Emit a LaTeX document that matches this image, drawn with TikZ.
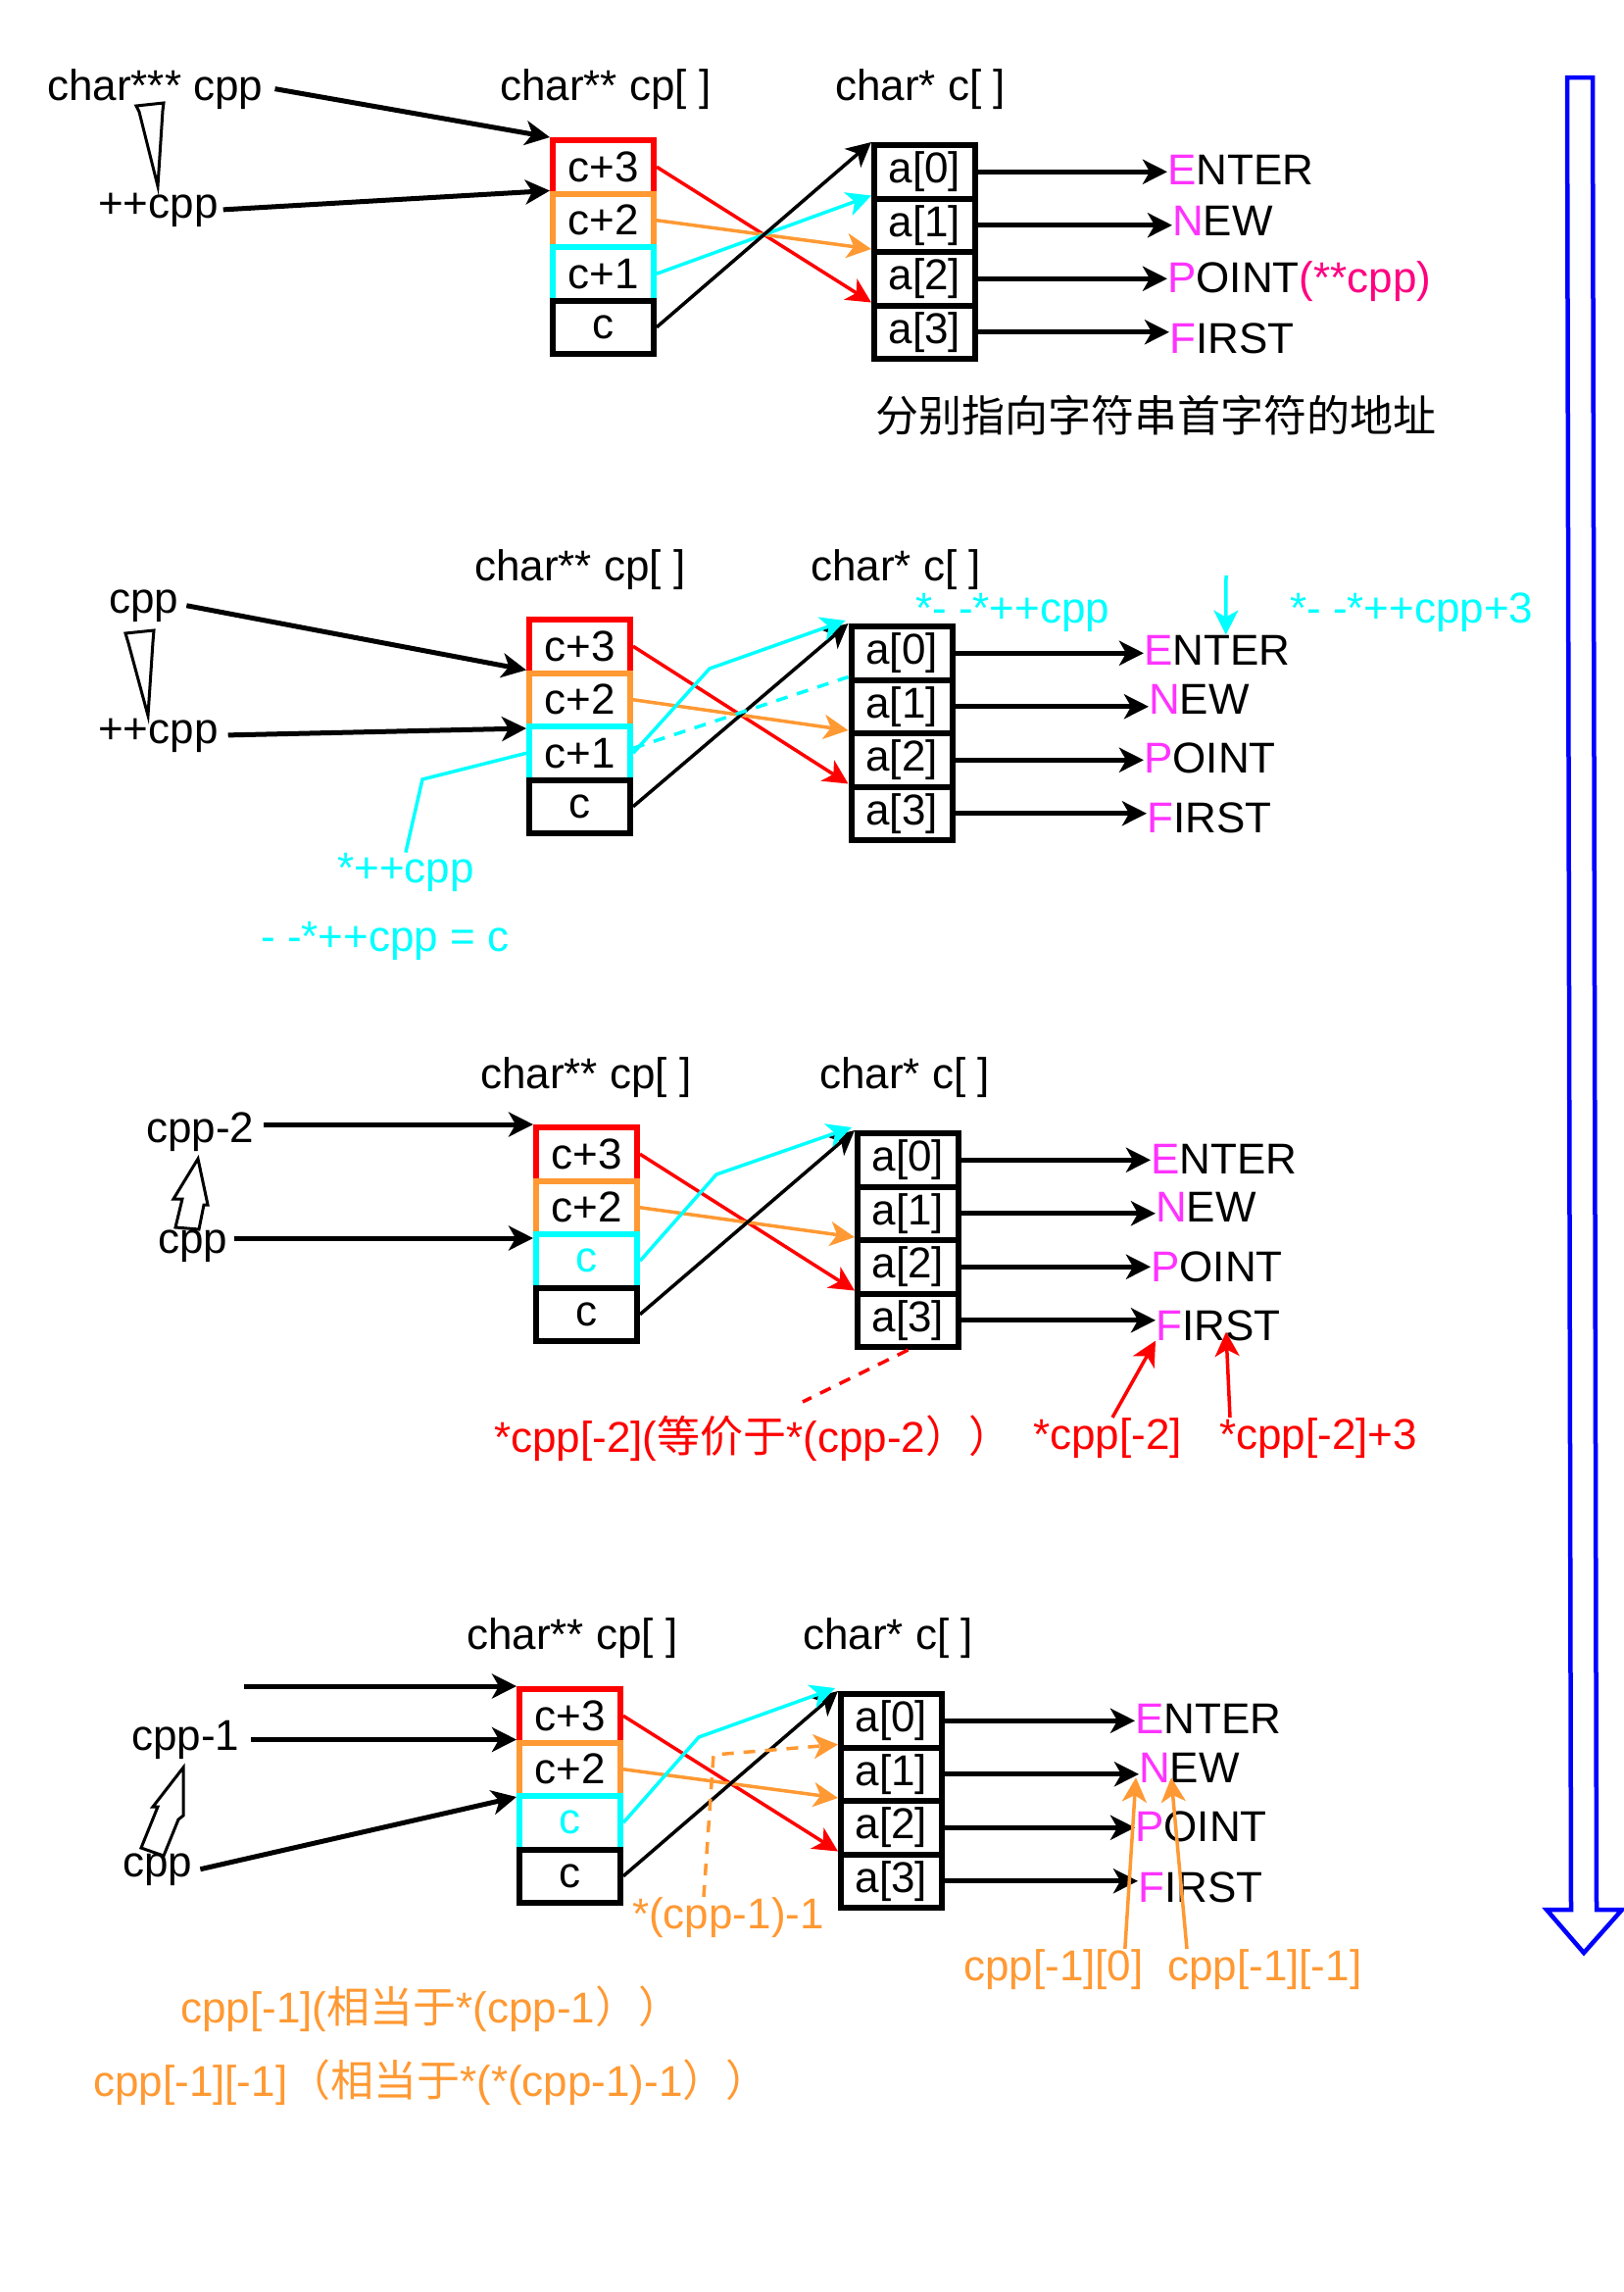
\documentclass[tikz,border=0pt]{standalone}
\usepackage{fontspec}
\setmainfont{Liberation Sans}
\newfontfamily\cjk{Noto Sans CJK SC}
\usetikzlibrary{arrows.meta}
\definecolor{myred}{HTML}{FF0000}
\definecolor{myorange}{HTML}{FF9933}
\definecolor{mycyan}{HTML}{00FFFF}
\definecolor{mymag}{HTML}{FF33FF}
\definecolor{mypink}{HTML}{FF0080}
\definecolor{myblue}{HTML}{0000FF}
\newcommand{\M}[1]{\textcolor{mymag}{#1}}
\begin{document}
\begin{tikzpicture}[x=1pt,y=-1pt,
  every node/.style={font=\fontsize{44pt}{52pt}\selectfont},
  cell/.style={draw, line width=6pt, minimum width=103pt, minimum height=54.5pt, inner sep=0pt},
  lbl/.style={inner sep=0pt, anchor=base west},
  arrowhd/.style={-{Stealth[length=25pt,width=25pt,inset=7pt]}},
  thk/.style={line width=5pt, arrowhd},
  thn/.style={line width=3.5pt, arrowhd},
  hollow/.style={draw, line width=3pt, fill=white, line join=miter},
  dsh/.style={line width=3.5pt, dash pattern=on 12pt off 10pt}]
\useasboundingbox (0,0) rectangle (1657,2338);

% ===== big blue arrow =====
\draw[myblue, line width=4.5pt, line join=miter] (1599,79) -- (1625,79) -- (1629,1948) -- (1655,1948) -- (1616,1992) -- (1578,1948) -- (1603,1948) -- cycle;

% ===== Panel 1 =====
\node[lbl] (p1cpp) at (48,102) {char*** cpp};
\node[lbl] (p1pp) at (100,222) {++cpp};
\node[lbl] (p1cph) at (510,102) {char** cp[ ]};
\node[lbl] (p1ch) at (852,102) {char* c[ ]};
\node[cell, draw=myred] (p1c3) at (615.5,170.25) {c+3};
\node[cell, draw=myorange] (p1c2) at (615.5,224.75) {c+2};
\node[cell, draw=mycyan] (p1c1) at (615.5,279.25) {c+1};
\node[cell, draw=black] (p1c0) at (615.5,333.75) {c};
\node[cell] (p1a0) at (943.5,175.25) {a[0]};
\node[cell] (p1a1) at (943.5,229.75) {a[1]};
\node[cell] (p1a2) at (943.5,284.25) {a[2]};
\node[cell] (p1a3) at (943.5,338.75) {a[3]};
\node[lbl] (p1w0) at (1191,188) {\M{E}NTER};
\node[lbl] (p1w1) at (1196,240) {\M{N}EW};
\node[lbl] (p1w2) at (1191,298) {\M{P}OINT\textcolor{mypink}{(**cpp)}};
\node[lbl] (p1w3) at (1193,360) {\M{F}IRST};
\node[lbl] (p1cn) at (893,440) {\cjk 分别指向字符串首字符的地址};
\draw[hollow] (139,108) -- (167,105) -- (166,113) -- (161,190) -- (142,114) -- cycle;
\draw[thk] ([xshift=12pt]p1cpp.east) -- (p1c3.north west);
\draw[thk] ([xshift=5pt]p1pp.east) -- (p1c2.north west);
\draw[thn, myred] (p1c3.east) -- (p1a3.north west);
\draw[thn, myorange] (p1c2.east) -- (p1a2.north west);
\draw[thn, mycyan] (p1c1.east) -- (p1a1.north west);
\draw[thn, black] (p1c0.east) -- (p1a0.north west);
\foreach \i in {0,1,2,3}{\draw[thk] (p1a\i.east) -- (p1a\i.east -| p1w\i.west);}

% ===== Panel 2 =====
\node[lbl] (p2cpp) at (111,625) {cpp};
\node[lbl] (p2pp) at (100,758) {++cpp};
\node[lbl] (p2cph) at (484,592) {char** cp[ ]};
\node[lbl] (p2ch) at (827,592) {char* c[ ]};
\node[cell, draw=myred] (p2c3) at (591.5,659.25) {c+3};
\node[cell, draw=myorange] (p2c2) at (591.5,713.75) {c+2};
\node[cell, draw=mycyan] (p2c1) at (591.5,768.25) {c+1};
\node[cell, draw=black] (p2c0) at (591.5,822.75) {c};
\node[cell] (p2a0) at (920,666.25) {a[0]};
\node[cell] (p2a1) at (920,720.75) {a[1]};
\node[cell] (p2a2) at (920,775.25) {a[2]};
\node[cell] (p2a3) at (920,829.75) {a[3]};
\node[lbl] (p2w0) at (1167,678) {\M{E}NTER};
\node[lbl] (p2w1) at (1172,728) {\M{N}EW};
\node[lbl] (p2w2) at (1167,788) {\M{P}OINT};
\node[lbl] (p2w3) at (1170,849) {\M{F}IRST};
\node[lbl, text=mycyan] (p2star) at (344,900) {*++cpp};
\node[lbl, text=mycyan] (p2eq) at (266,970) {- -*++cpp = c};
\node[lbl, text=mycyan] (p2l1) at (934,635) {*- -*++cpp};
\node[lbl, text=mycyan] (p2l2) at (1316,635) {*- -*++cpp+3};
\draw[hollow] (128,646) -- (157,643) -- (156,655) -- (151,730) -- (131,656) -- cycle;
\draw[thk] ([xshift=8pt]p2cpp.east) -- (p2c2.north west);
\draw[thk] ([xshift=10pt]p2pp.east) -- ([yshift=-5pt]p2c1.north west);
\coordinate (p2bend) at (724,682);
\coordinate (p2lbend) at (431,795);
\coordinate (p2dtop) at (1251,587);
\draw[thn, myred] (p2c3.east) -- (p2a3.north west);
\draw[thn, myorange] (p2c2.east) -- (p2a2.north west);
\draw[thn, black] (p2c0.east) -- (p2a0.north west);
\draw[thn, mycyan] (p2c1.east) -- (p2bend) -- ([xshift=-3pt,yshift=3pt]p2a0.north west);
\draw[dsh, mycyan] ([yshift=5pt]p2c1.east) -- (p2a1.north west);
\draw[line width=3.5pt, mycyan] (p2c1.west) -- (p2lbend) -- (p2star.north);
\draw[thn, mycyan] (p2dtop) -- ([xshift=9pt]p2w0.north);
\foreach \i in {0,1,2,3}{\draw[thk] (p2a\i.east) -- (p2a\i.east -| p2w\i.west);}

% ===== Panel 3 =====
\node[lbl] (p3cpp2) at (149,1165) {cpp-2};
\node[lbl] (p3cpp) at (161,1278) {cpp};
\node[lbl] (p3cph) at (490,1110) {char** cp[ ]};
\node[lbl] (p3ch) at (836,1110) {char* c[ ]};
\node[cell, draw=myred] (p3c3) at (598.5,1177.25) {c+3};
\node[cell, draw=myorange] (p3c2) at (598.5,1231.75) {c+2};
\node[cell, draw=mycyan, text=mycyan] (p3c1) at (598.5,1286.25) {c};
\node[cell, draw=black] (p3c0) at (598.5,1340.75) {c};
\node[cell] (p3a0) at (926.5,1183.25) {a[0]};
\node[cell] (p3a1) at (926.5,1237.75) {a[1]};
\node[cell] (p3a2) at (926.5,1292.25) {a[2]};
\node[cell] (p3a3) at (926.5,1346.75) {a[3]};
\node[lbl] (p3w0) at (1174,1197) {\M{E}NTER};
\node[lbl] (p3w1) at (1179,1246) {\M{N}EW};
\node[lbl] (p3w2) at (1174,1307) {\M{P}OINT};
\node[lbl] (p3w3) at (1179,1367) {\M{F}IRST};
\node[lbl, text=myred] (p3r1) at (504,1481) {*cpp[-2]({\cjk 等价于}*(cpp-2{\cjk ））}};
\node[lbl, text=myred] (p3r2) at (1054,1478) {*cpp[-2]};
\node[lbl, text=myred] (p3r3) at (1244,1478) {*cpp[-2]+3};
\draw[hollow] (202,1182) -- (212,1229) -- (208,1229) -- (203,1254) -- (179,1252) -- (186,1223) -- (177,1223) -- cycle;
\draw[thk] ([xshift=10pt]p3cpp2.east |- p3c3.north west) -- (p3c3.north west);
\draw[thk] ([xshift=7pt,yshift=-7pt]p3cpp.east |- p3c1.north west) -- ([yshift=-7pt]p3c1.north west);
\coordinate (p3bend) at (731,1198);
\coordinate (p3dend) at (819,1430);
\draw[thn, myred] (p3c3.east) -- (p3a3.north west);
\draw[thn, myorange] (p3c2.east) -- (p3a2.north west);
\draw[thn, black] (p3c0.east) -- (p3a0.north west);
\draw[thn, mycyan] (p3c1.east) -- (p3bend) -- ([xshift=-3pt,yshift=3pt]p3a0.north west);
\draw[dsh, myred] (p3a3.south) -- (p3dend);
\draw[thn, myred] ([xshift=5pt]p3r2.north) -- (p3w3.south west);
\draw[thn, myred] ([xshift=11pt]p3r3.north west) -- ([xshift=72pt,yshift=9pt]p3w3.south west);
\foreach \i in {0,1,2,3}{\draw[thk] (p3a\i.east) -- (p3a\i.east -| p3w\i.west);}

% ===== Panel 4 =====
\node[lbl] (p4cpp1) at (134,1785) {cpp-1};
\node[lbl] (p4cpp) at (125,1914) {cpp};
\node[lbl] (p4cph) at (476,1682) {char** cp[ ]};
\node[lbl] (p4ch) at (819,1682) {char* c[ ]};
\node[cell, draw=myred] (p4c3) at (581.5,1750.25) {c+3};
\node[cell, draw=myorange] (p4c2) at (581.5,1804.75) {c+2};
\node[cell, draw=mycyan, text=mycyan] (p4c1) at (581.5,1859.25) {c};
\node[cell, draw=black] (p4c0) at (581.5,1913.75) {c};
\node[cell] (p4a0) at (909.5,1755.25) {a[0]};
\node[cell] (p4a1) at (909.5,1809.75) {a[1]};
\node[cell] (p4a2) at (909.5,1864.25) {a[2]};
\node[cell] (p4a3) at (909.5,1918.75) {a[3]};
\node[lbl] (p4w0) at (1158,1768) {\M{E}NTER};
\node[lbl] (p4w1) at (1162,1818) {\M{N}EW};
\node[lbl] (p4w2) at (1158,1878) {\M{P}OINT};
\node[lbl] (p4w3) at (1161,1940) {\M{F}IRST};
\node[lbl, text=myorange] (p4m1) at (645,1967) {*(cpp-1)-1};
\node[lbl, text=myorange] (p4t1) at (184,2063) {cpp[-1]({\cjk 相当于}*(cpp-1{\cjk ））}};
\node[lbl, text=myorange] (p4t2) at (95,2138) {cpp[-1][-1]{\cjk （相当于}*(*(cpp-1)-1{\cjk ））}};
\node[lbl, text=myorange] (p4o0) at (983,2020) {cpp[-1][0]};
\node[lbl, text=myorange] (p4o1) at (1191,2020) {cpp[-1][-1]};
\draw[hollow] (187,1803) -- (187,1852) -- (182,1856) -- (167,1893) -- (144,1885) -- (161,1843) -- (156,1843) -- cycle;
\coordinate (p4free) at (249,1720);
\draw[thk] (p4free) -- (p4c3.north west);
\draw[thk] ([xshift=12pt]p4cpp1.east |- p4c2.north west) -- (p4c2.north west);
\draw[thk] ([xshift=8pt]p4cpp.east) -- ([yshift=-4pt]p4c1.north west);
\coordinate (p4bend) at (713,1772);
\coordinate (p4corner) at (728,1790);
\draw[thn, myred] (p4c3.east) -- (p4a3.north west);
\draw[thn, myorange] (p4c2.east) -- (p4a2.north west);
\draw[thn, black] (p4c0.east) -- (p4a0.north west);
\draw[thn, mycyan] (p4c1.east) -- (p4bend) -- ([xshift=-3pt,yshift=3pt]p4a0.north west);
\draw[dsh, myorange, arrowhd] ([xshift=73pt]p4m1.north west) -- (p4corner) -- (p4a1.north west);
\foreach \i in {0,1,2,3}{\draw[thk] (p4a\i.east) -- (p4a\i.east -| p4w\i.west);}
\draw[thn, myorange] ([xshift=-19pt]p4o0.north east) -- ([xshift=-3pt,yshift=5pt]p4w1.south west);
\draw[thn, myorange] ([xshift=20pt]p4o1.north west) -- ([xshift=33pt,yshift=5pt]p4w1.south west);
\end{tikzpicture}
\end{document}
